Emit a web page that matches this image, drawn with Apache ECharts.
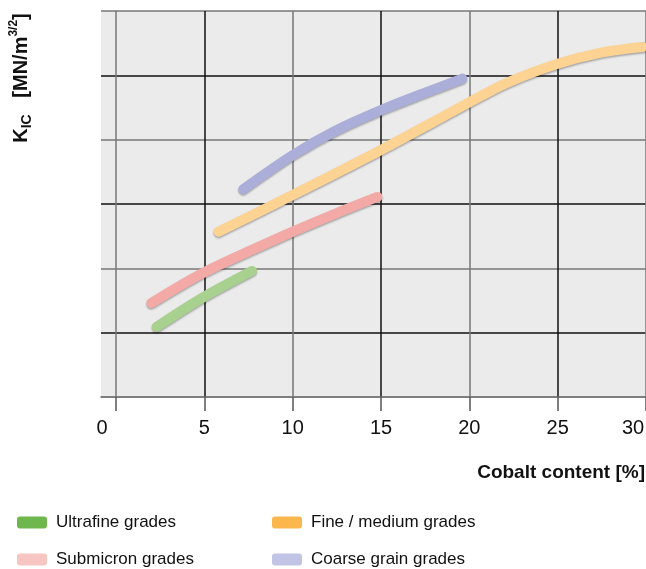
<!DOCTYPE html>
<html>
<head>
<meta charset="utf-8">
<script src="https://cdn.jsdelivr.net/npm/echarts@6/dist/echarts.min.js"></script>
<style>
  html, body { margin: 0; padding: 0; background: #fff; }
  #chart { width: 646px; height: 569px; }
</style>
</head>
<body>
<div id="chart"></div>
<script>
// tick labels on the cobalt axis
const xTicks = [0, 5, 10, 15, 20, 25, 30];
// series names
const names = ['Ultrafine grades', 'Submicron grades', 'Fine / medium grades', 'Coarse grain grades'];
// [cobalt %, K_IC in grid units]
const ultrafine = [[2.3, 1.09], [5, 1.56], [7.7, 1.96]];
const submicron = [[2.0, 1.46], [5, 1.94], [10, 2.57], [12.5, 2.86], [14.8, 3.11]];
const fineMedium = [[5.8, 2.57], [10, 3.14], [15, 3.84], [20, 4.58],
  [22.1, 4.88], [25, 5.18], [27.4, 5.35], [29.8, 5.44]];
const coarse = [[7.2, 3.23], [10, 3.76], [12.5, 4.15], [15, 4.46], [17.5, 4.73], [19.6, 4.95]];

const lineColors = ['#a8d190', '#f3a9a6', '#fdd393', '#aaaed9'];
const legendColors = ['#6db74c', '#f7c6c3', '#fbb64c', '#c2c4e5'];

const chart = echarts.init(document.getElementById('chart'));

function makeSeries(name, data, color) {
  return {
    name: name,
    type: 'line',
    data: data,
    smooth: 0.3,
    symbol: 'none',
    color: color,
    lineStyle: {
      width: 10,
      cap: 'round',
      color: color,
      shadowColor: 'rgba(0, 0, 0, 0.3)',
      shadowBlur: 2,
      shadowOffsetY: 1.5,
    },
  };
}

const font = 'Liberation Sans, Arial, sans-serif';

const legendText = {
  fontSize: 17,
  color: '#111',
  fontFamily: font,
  padding: [0, 0, 0, 4],
};

function makeLegend(left, items) {
  return {
    orient: 'vertical',
    left: left,
    top: 514,
    height: 80,
    padding: 0,
    itemWidth: 30,
    itemHeight: 12,
    itemGap: 20,
    icon: 'roundRect',
    selectedMode: false,
    textStyle: legendText,
    data: items,
  };
}

const option = {
  animation: false,
  grid: {
    left: 101,
    right: 0,
    top: 11,
    bottom: 172,
    outerBoundsMode: 'none',
    show: true,
    backgroundColor: '#ebebeb',
    borderWidth: 0,
  },
  legend: [
    makeLegend(17, [
      { name: names[0], itemStyle: { color: legendColors[0] } },
      { name: names[1], itemStyle: { color: legendColors[1] } },
    ]),
    makeLegend(272, [
      { name: names[2], itemStyle: { color: legendColors[2] } },
      { name: names[3], itemStyle: { color: legendColors[3] } },
    ]),
  ],
  xAxis: {
    type: 'value',
    min: -0.85,
    max: 30,
    name: 'Cobalt content [%]',
    nameLocation: 'end',
    nameGap: 0,
    nameTextStyle: {
      fontSize: 19,
      fontWeight: 'bold',
      color: '#111',
      fontFamily: font,
      align: 'right',
      verticalAlign: 'top',
      padding: [66, 1, 0, 0],
    },
    axisLine: { show: true, lineStyle: { color: '#777', width: 1.5 } },
    axisTick: {
      show: true,
      customValues: xTicks,
      length: 14,
      lineStyle: { color: '#555', width: 1.5 },
    },
    axisLabel: {
      customValues: xTicks,
      margin: 21,
      fontSize: 20,
      color: '#111',
      fontFamily: font,
      formatter: (v) => (v === 0 ? '{z|0}' : v === 30 ? '{t|30}' : String(v)),
      rich: {
        z: { fontSize: 20, color: '#111', fontFamily: font, padding: [0, 28, 0, 0] },
        t: { fontSize: 20, color: '#111', fontFamily: font, padding: [0, 26, 0, 0] },
      },
    },
    splitLine: {
      show: true,
      lineStyle: { color: ['#777', '#111'], width: 1.5 },
    },
  },
  yAxis: {
    type: 'value',
    min: 0,
    max: 6,
    interval: 1,
    axisLine: { show: false },
    axisTick: { show: false },
    axisLabel: { show: false },
    splitLine: {
      show: true,
      lineStyle: { color: ['#777', '#111'], width: 1.5 },
    },
  },
  graphic: [
    {
      type: 'text',
      x: 21,
      y: 78,
      rotation: Math.PI / 2,
      style: {
        text: '{k|K}{s|IC}{k|   [MN/m}{p|3/2}{k|]}',
        align: 'center',
        verticalAlign: 'middle',
        fill: '#111',
        rich: {
          k: { fontSize: 20, fontWeight: 'bold', lineHeight: 26, verticalAlign: 'middle', fontFamily: font },
          s: { fontSize: 14, fontWeight: 'bold', lineHeight: 26, verticalAlign: 'bottom', fontFamily: font },
          p: { fontSize: 12, fontWeight: 'bold', lineHeight: 26, verticalAlign: 'top', fontFamily: font },
        },
      },
    },
  ],
  series: [
    makeSeries(names[0], ultrafine, lineColors[0]),
    makeSeries(names[1], submicron, lineColors[1]),
    makeSeries(names[2], fineMedium, lineColors[2]),
    makeSeries(names[3], coarse, lineColors[3]),
  ],
};

chart.setOption(option);
</script>
</body>
</html>
